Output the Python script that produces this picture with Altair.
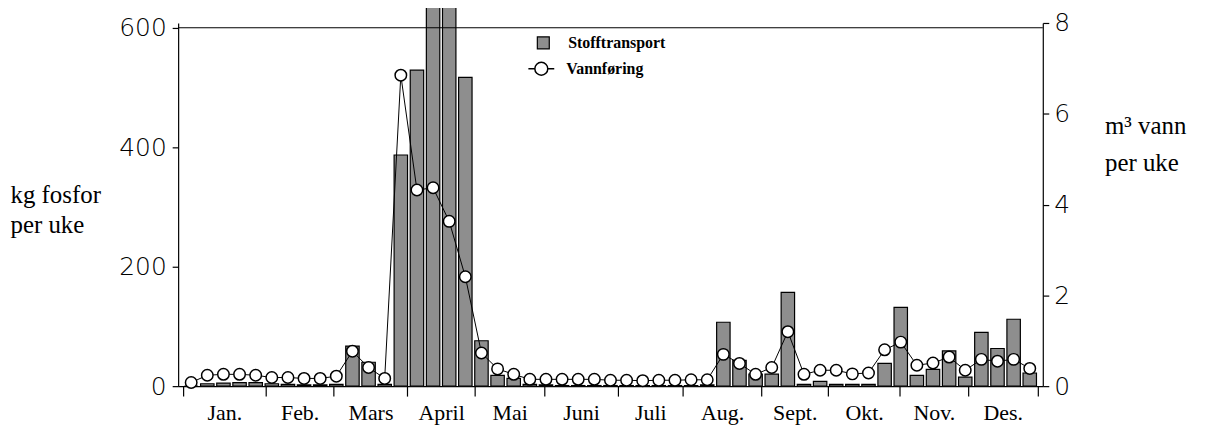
import altair as alt
import pandas as pd

# ---------------- data ----------------
weeks = list(range(1, 54))
fosfor = [0, 4, 5, 6, 6, 4, 3, 2, 2, 3,
          67, 40, 3, 387, 529, 637, 680, 517, 76, 18,
          13, 3, 2, 1, 1, 1, 1, 1, 1, 1,
          1, 1, 2, 107, 43, 20, 20, 157, 3, 8,
          3, 3, 3, 38, 132, 18, 28, 59, 15, 90,
          63, 112, 22]
vann = [0.08, 0.24, 0.26, 0.26, 0.24, 0.19, 0.19, 0.17, 0.17, 0.22,
        0.77, 0.41, 0.17, 6.85, 4.32, 4.37, 3.63, 2.41, 0.73, 0.38,
        0.26, 0.15, 0.15, 0.15, 0.15, 0.15, 0.13, 0.13, 0.12, 0.13,
        0.13, 0.14, 0.14, 0.70, 0.50, 0.26, 0.41, 1.20, 0.26, 0.35,
        0.35, 0.27, 0.29, 0.80, 0.97, 0.46, 0.51, 0.64, 0.35, 0.59,
        0.55, 0.59, 0.39]
month_names = ["Jan.", "Feb.", "Mars", "April", "Mai", "Juni", "Juli",
               "Aug.", "Sept.", "Okt.", "Nov.", "Des."]
month_bounds = [0.5, 5.62, 9.83, 14.4, 18.6, 22.9, 27.45, 31.5, 36.35,
                40.5, 44.95, 49.16, 53.5]
left_ticks = [0, 200, 400, 600]
right_ticks = [0, 2, 4, 6, 8]
frame_level = [600]

df = pd.DataFrame({"uke": weeks, "fosfor": fosfor, "vann": vann})
frame_df = pd.DataFrame({"fosfor": frame_level})

month_mid = [(a + b) / 2 for a, b in zip(month_bounds[:-1], month_bounds[1:])]
label_expr = "".join(
    f"datum.value < {month_bounds[i + 1]} ? '{n}' : " for i, n in enumerate(month_names)
) + "''"

SERIF = "Liberation Serif"
NUMF = "DejaVu Sans"

xscale = alt.Scale(domain=[month_bounds[0], month_bounds[-1]], nice=False, zero=False)

x_tick_axis = alt.Axis(values=month_bounds, labels=False, ticks=True, tickSize=10,
                       tickColor="black", tickWidth=1.2, domain=True,
                       domainColor="black", domainWidth=1.2, grid=False,
                       title=None, orient="bottom")
x_label_axis = alt.Axis(values=month_mid, labelExpr=label_expr, ticks=False,
                        tickSize=0, domain=False, grid=False, title=None,
                        orient="bottom", labelFont=SERIF, labelFontSize=22,
                        labelColor="black", labelPadding=17, labelFlush=False,
                        labelOverlap=False, labelBound=False)

left_axis = alt.Axis(values=left_ticks, orient="left", grid=False,
                     domainColor="black", domainWidth=1.2, tickColor="black",
                     tickWidth=1.2, tickSize=6, labelPadding=6,
                     labelFont=NUMF, labelFontWeight=200, labelFontSize=25,
                     labelColor="black",
                     title=["kg fosfor", "per uke"], titleAngle=0,
                     titleAlign="left", titleBaseline="alphabetic",
                     titleX=-169, titleY=180, titleLineHeight=31,
                     titleFont=SERIF, titleFontSize=25, titleFontWeight="normal",
                     titleColor="black")

right_axis = alt.Axis(values=right_ticks, orient="right", grid=False,
                      domainColor="black", domainWidth=1.2, tickColor="black",
                      tickWidth=1.2, tickSize=6, labelPadding=5,
                      labelFont=NUMF, labelFontWeight=200, labelFontSize=25,
                      labelColor="black",
                      title=["m³  vann", "per uke"], titleAngle=0,
                      titleAlign="left", titleBaseline="alphabetic",
                      titleX=62, titleY=111, titleLineHeight=37,
                      titleFont=SERIF, titleFontSize=25, titleFontWeight="normal",
                      titleColor="black")

yleft = alt.Scale(domain=[0, 608], nice=False, zero=True)
yright = alt.Scale(domain=[0, 8], nice=False, zero=True)

bars = alt.Chart(df).transform_calculate(serie="'Stofftransport'").mark_bar(
    orient="vertical", width=13.5, stroke="black", strokeWidth=1.2
).encode(
    x=alt.X("uke:Q", scale=xscale, axis=x_tick_axis),
    y=alt.Y("fosfor:Q", scale=yleft, axis=left_axis),
    fill=alt.Fill("serie:N",
                  scale=alt.Scale(domain=["Stofftransport"], range=["#8e8e8e"]),
                  legend=alt.Legend(orient="none", legendX=359, legendY=12,
                                    title=None, padding=0, symbolType="square",
                                    symbolSize=144, symbolStrokeColor="black",
                                    symbolStrokeWidth=1.2, labelOffset=17,
                                    labelFont=SERIF, labelFontWeight="bold",
                                    labelFontSize=16, labelColor="black")),
)

frame = alt.Chart(frame_df).mark_rule(color="black", strokeWidth=1.2).encode(
    y=alt.Y("fosfor:Q", scale=yleft, axis=left_axis)
)

line = alt.Chart(df).mark_line(color="black", strokeWidth=1).encode(
    x=alt.X("uke:Q", scale=xscale, axis=x_label_axis),
    y=alt.Y("vann:Q", scale=yright, axis=right_axis),
)

legend_path = ("M -0.5 0 A 0.5 0.5 0 1 0 0.5 0 A 0.5 0.5 0 1 0 -0.5 0 "
               "M -1 0 L -0.5 0 M 0.5 0 L 1 0")

points = alt.Chart(df).transform_calculate(serie2="'Vannføring'").mark_point(
    shape="circle", size=133, fill="white", filled=False, strokeWidth=1.5, opacity=1
).encode(
    x=alt.X("uke:Q", scale=xscale, axis=x_label_axis),
    y=alt.Y("vann:Q", scale=yright, axis=right_axis),
    stroke=alt.Stroke("serie2:N",
                      scale=alt.Scale(domain=["Vannføring"], range=["black"]),
                      legend=alt.Legend(orient="none", legendX=351, legendY=32,
                                        title=None, padding=0,
                                        symbolType=legend_path, symbolSize=676,
                                        symbolFillColor="white",
                                        symbolStrokeWidth=1.5, labelOffset=11,
                                        labelFont=SERIF, labelFontWeight="bold",
                                        labelFontSize=16, labelColor="black")),
)

left_layer = alt.layer(bars, frame)
right_layer = alt.layer(line, points)

chart = alt.layer(left_layer, right_layer).resolve_scale(
    y="independent"
).resolve_axis(
    x="independent", y="independent"
).properties(
    width=869, height=365,
    autosize=alt.AutoSizeParams(type="none"),
    padding={"left": 171, "top": 14, "right": 158, "bottom": 38},
    background="white",
).configure_view(strokeWidth=0)

chart.save("out.html", embed_options={"renderer": "svg", "actions": False})
